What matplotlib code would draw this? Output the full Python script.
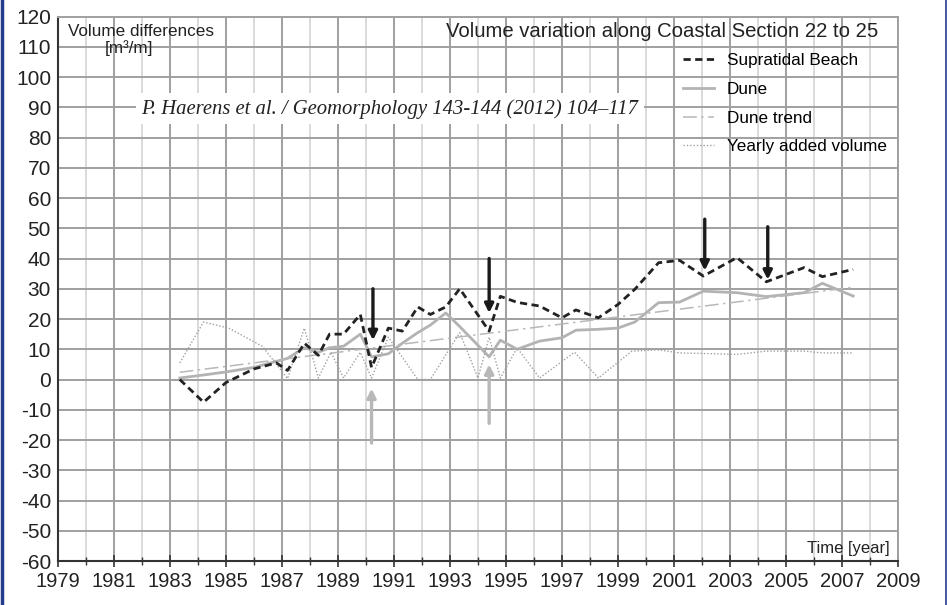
import matplotlib
matplotlib.use('Agg')
import matplotlib.pyplot as plt
from matplotlib.lines import Line2D

plt.rcParams['font.family'] = ['Liberation Sans', 'DejaVu Sans']
plt.rcParams['axes.unicode_minus'] = False

# Supratidal beach and dune volumes (m3/m)
years = [1983.35, 1984.2, 1985.0, 1986.0, 1986.8, 1987.2, 1987.8, 1988.3, 1988.7,
         1989.2, 1989.8, 1990.2, 1990.8, 1991.3, 1991.85, 1992.3, 1992.85, 1993.35,
         1994.4, 1994.8, 1995.4, 1996.2, 1997.0, 1997.5, 1998.3, 1999.0, 1999.6,
         2000.45, 2001.2, 2002.05, 2003.25, 2004.3, 2005.65, 2006.3, 2007.4]
supratidal = [0, -7.5, -1, 3.5, 5.5, 3, 12, 8, 15, 15, 21.5, 4, 17, 16, 24, 21.5,
              24, 30, 16, 27.5, 25.5, 24.3, 20.4, 23, 20.4, 24.8, 29.8, 38.6, 39.4,
              34.2, 40.3, 32.3, 37, 34, 36.4]
dune = [0.5, 1.5, 2.5, 4, 6, 7, 10.5, 9, 10.5, 11, 15, 7.5, 8.5, 12, 15.5, 18, 22,
        17.5, 7.5, 13, 10, 12.7, 13.8, 16.3, 16.6, 17, 19, 25.4, 25.6, 29.2, 28.7,
        27.4, 28.7, 31.8, 27.6]

# dune trend line end points
trend_years = [1983.35, 2007.4]
trend_vals = [2.4, 30.5]

# yearly added volume
add_years = [1983.35, 1984.2, 1985.1, 1986.3, 1987.2, 1987.8, 1988.3, 1988.75, 1989.2,
             1989.8, 1990.2, 1990.8, 1991.85, 1992.3, 1993.35, 1994.0, 1994.4, 1994.8,
             1995.4, 1996.2, 1997.45, 1998.3, 1999.5, 2000.45, 2001.2, 2002.05,
             2003.25, 2004.3, 2005.65, 2006.3, 2007.4]
added = [5.5, 19, 17, 11, 0.3, 17, 0.5, 9, 0.5, 9, 0.5, 14, 0, 0, 15.5, 0.5, 14, 0.5,
         10.5, 0.5, 9, 0.5, 9.4, 9.8, 8.8, 8.6, 8.3, 9.4, 9.4, 8.8, 8.8]

# arrows marking events
down_years = [1990.25, 1994.4, 2002.1, 2004.35]
down_tail = [30, 40, 53, 50.5]
down_tip = [13, 22, 36, 33]
up_years = [1990.2, 1994.4]
up_tail = [-21, -14.5]
up_tip = [-3, 5]

fig = plt.figure(figsize=(9.47, 6.05), dpi=100)
ax = fig.add_axes([0.0612, 0.0727, 0.887, 0.9])

ax.set_xlim(1979, 2009)
ax.set_ylim(-60, 120)
ax.set_xticks(range(1979, 2010, 2))
ax.set_xticks(range(1980, 2009, 2), minor=True)
ax.set_yticks(range(-60, 121, 10))

ax.grid(which='major', axis='x', color='#a0a0a0', lw=1.4)
ax.grid(which='minor', axis='x', color='#dadada', lw=1.4)
ax.grid(which='major', axis='y', color='#a0a0a0', lw=1.4)
ax.set_axisbelow(True)

ax.plot(years, supratidal, color='#222222', lw=2.0, ls=(0, (2.6, 1.6)),
        label='Supratidal Beach', zorder=4)
ax.plot(years, dune, color='#b3b3b3', lw=2.0, label='Dune', zorder=3)
ax.plot(trend_years, trend_vals, color='#b8b8b8', lw=1.1, ls=(0, (9, 3, 1.5, 3)),
        label='Dune trend', zorder=3)
ax.plot(add_years, added, color='#a0a0a0', lw=1.0, ls=(0, (1, 1.4)),
        label='Yearly added volume', zorder=3)

for x, t0, t1 in zip(down_years, down_tail, down_tip):
    ax.annotate('', xy=(x, t1), xytext=(x, t0),
                arrowprops=dict(arrowstyle='-|>', color='#1a1a1a', lw=2.4,
                                mutation_scale=13, shrinkA=0, shrinkB=0), zorder=5)
for x, t0, t1 in zip(up_years, up_tail, up_tip):
    ax.annotate('', xy=(x, t1), xytext=(x, t0),
                arrowprops=dict(arrowstyle='-|>', color='#b8b8b8', lw=2.4,
                                mutation_scale=13, shrinkA=0, shrinkB=0), zorder=5)

for s in ['left', 'bottom']:
    ax.spines[s].set_color('#333333')
    ax.spines[s].set_linewidth(1.5)
for s in ['top', 'right']:
    ax.spines[s].set_color('#a0a0a0')
    ax.spines[s].set_linewidth(1.4)

ax.tick_params(axis='x', which='major', direction='inout', length=8, width=1.2,
               color='#333333', labelsize=14.5, pad=4)
ax.tick_params(axis='x', which='minor', direction='inout', length=6, width=1.0,
               color='#333333')
ax.tick_params(axis='y', length=0, labelsize=15, pad=5)
for lab in ax.get_xticklabels() + ax.get_yticklabels():
    lab.set_color('#222222')

ax.text(1979.37, 117.5, 'Volume differences', fontsize=12.3, va='top', color='#222222')
ax.text(1981.55, 112.3, '[m³/m]', fontsize=12.3, va='top', ha='center', color='#222222')
ax.text(2008.29, 118.2, 'Volume variation along Coastal Section 22 to 25', fontsize=14.6,
        ha='right', va='top', color='#222222')
ax.text(1981.98, 89.5, 'P. Haerens et al. / Geomorphology 143-144 (2012) 104–117',
        fontsize=14.9, family='Liberation Serif', style='italic', color='#222222',
        va='center', zorder=6,
        bbox=dict(facecolor='white', edgecolor='none', pad=4))
ax.text(2008.7, -58.5, 'Time [year]', fontsize=12, ha='right', va='bottom',
        color='#222222')

ax.legend(loc='upper right', bbox_to_anchor=(0.995, 0.945), frameon=False,
          fontsize=12.3, handlelength=1.8, handletextpad=0.75, labelspacing=0.8,
          borderaxespad=0)

# thin blue frame lines at the page edges
fig.add_artist(Line2D([0.002, 0.002], [0, 1], color='#243c8c', lw=2.5))
fig.add_artist(Line2D([0.9985, 0.9985], [0, 1], color='#243c8c', lw=1.2))

fig.savefig('out.png', dpi=100)
